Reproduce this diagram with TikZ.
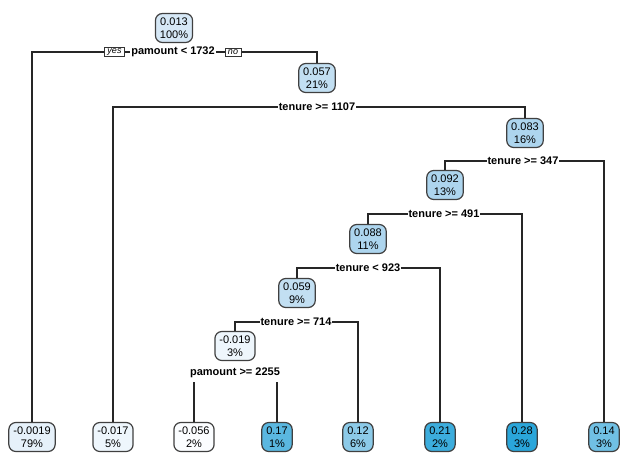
\documentclass[tikz,border=0pt]{standalone}
\usepackage{fontspec}
\setmainfont{Liberation Sans}
\usepackage{tikz}

\definecolor{vwhite}{HTML}{FBFDFF}
\definecolor{vneg}{HTML}{EEF6FC}
\definecolor{vleaf}{HTML}{E6F1FA}
\definecolor{vroot}{HTML}{D6E8F6}
\definecolor{vlow}{HTML}{C2DFF2}
\definecolor{vmid}{HTML}{ADD5EE}
\definecolor{vtwelve}{HTML}{8CCAE8}
\definecolor{vfourteen}{HTML}{70C0E4}
\definecolor{vseventeen}{HTML}{5AB7E0}
\definecolor{vtwentyone}{HTML}{3CADDD}
\definecolor{vtwentyeight}{HTML}{2AA6DA}

\begin{document}
\begin{tikzpicture}[x=1pt, y=-1pt,
  box/.style={draw=black!75, line width=1.2pt, rounded corners=7pt, align=center,
    inner xsep=4.5pt, inner ysep=2.5pt, minimum height=29pt, font=\fontsize{11}{12.5}\selectfont},
  split/.style={fill=white, inner xsep=1pt, inner ysep=0.5pt, font=\fontsize{11}{13}\selectfont\bfseries},
  yesno/.style={draw=black!80, fill=white, line width=0.8pt, inner xsep=3pt, inner ysep=1.5pt,
    font=\fontsize{9}{10}\selectfont\itshape},
  branch/.style={draw=black!85, line width=1.25pt}]
\useasboundingbox (0,0) rectangle (624,463);

% inner nodes
\node[box, fill=vroot] (root) at (174,28) {0.013\\100\%};
\node[box, fill=vlow] (n2) at (317,78) {0.057\\21\%};
\node[box, fill=vmid] (n3) at (525,133) {0.083\\16\%};
\node[box, fill=vmid] (n4) at (445,185) {0.092\\13\%};
\node[box, fill=vmid] (n5) at (368,239) {0.088\\11\%};
\node[box, fill=vlow] (n6) at (297,293) {0.059\\9\%};
\node[box, fill=vneg] (n7) at (235,346) {-0.019\\3\%};

% leaves
\node[box, fill=vleaf] (l1) at (32,437) {-0.0019\\79\%};
\node[box, fill=vneg] (l2) at (113,437) {-0.017\\5\%};
\node[box, fill=vwhite] (l3) at (194,437) {-0.056\\2\%};
\node[box, fill=vseventeen] (l4) at (277,437) {0.17\\1\%};
\node[box, fill=vtwelve] (l5) at (358,437) {0.12\\6\%};
\node[box, fill=vtwentyone] (l6) at (440,437) {0.21\\2\%};
\node[box, fill=vtwentyeight] (l7) at (522,437) {0.28\\3\%};
\node[box, fill=vfourteen] (l8) at (604,437) {0.14\\3\%};

% split points
\coordinate (s1) at (173,52);
\coordinate (s2) at (317,107);
\coordinate (s3) at (523,161);
\coordinate (s4) at (444,214);
\coordinate (s5) at (368,268);
\coordinate (s6) at (296,322);
\coordinate (s7) at (235,373);

\draw[branch] (l1.north) |- (s1) -| (n2.north);
\draw[branch] (l2.north) |- (s2) -| (n3.north);
\draw[branch] (n4.north) |- (s3) -| (l8.north);
\draw[branch] (n5.north) |- (s4) -| (l7.north);
\draw[branch] (n6.north) |- (s5) -| (l6.north);
\draw[branch] (n7.north) |- (s6) -| (l5.north);
\draw[branch] (l3.north) |- (s7) -| (l4.north);

% split labels
\node[split] (t1) at (s1) {pamount < 1732};
\node[split] (t2) at (s2) {tenure >= 1107};
\node[split] (t3) at (s3) {tenure >= 347};
\node[split] (t4) at (s4) {tenure >= 491};
\node[split] (t5) at (s5) {tenure < 923};
\node[split] (t6) at (s6) {tenure >= 714};
\node[split, inner ysep=4pt] (t7) at (s7) {pamount >= 2255};

\node[yesno] (yes) at (114.5,52) {yes};
\node[yesno] (no) at (233,52) {no};
\end{tikzpicture}
\end{document}
